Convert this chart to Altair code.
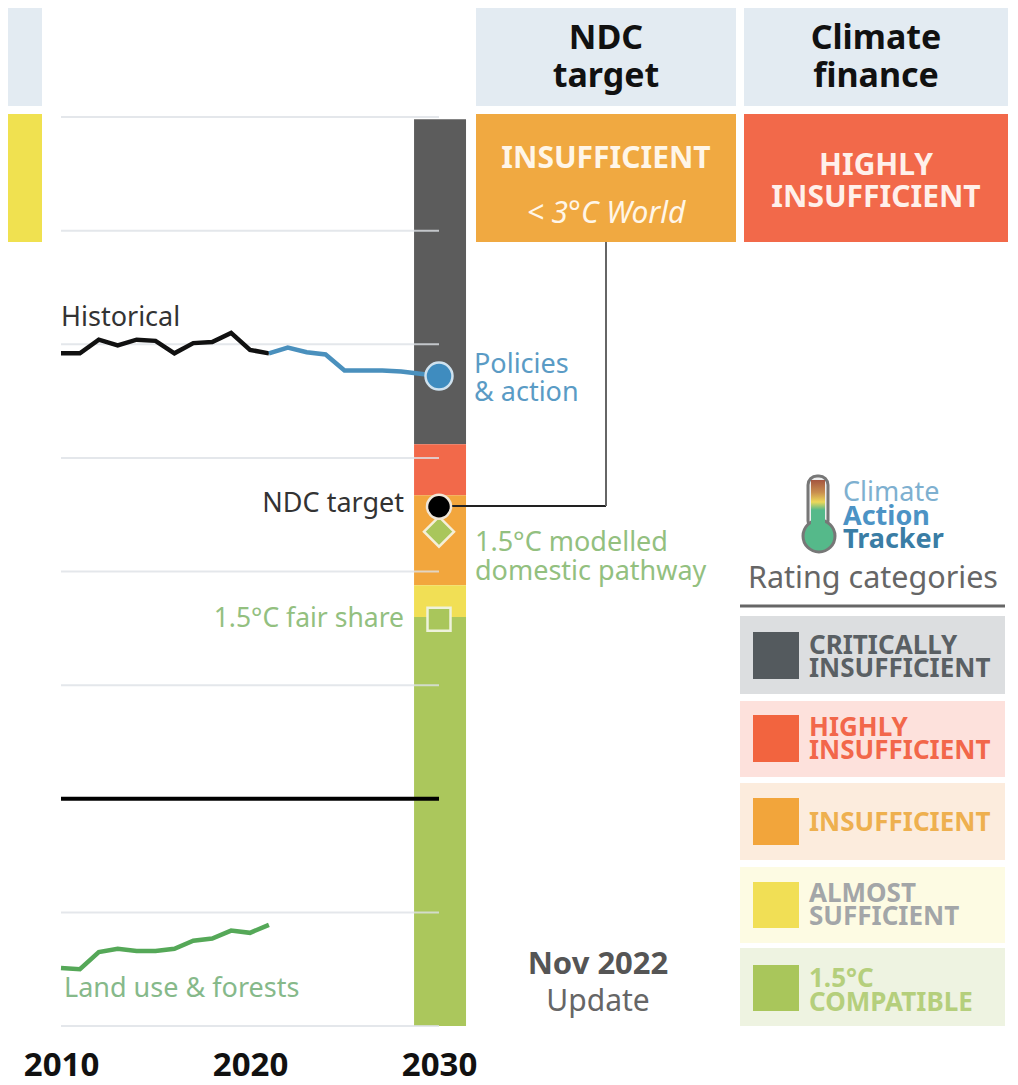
import altair as alt
import pandas as pd

FONT = "Noto Sans"

# ---- data ----
hist_years = list(range(2010, 2022))
hist_values = [392, 392, 404, 399, 404, 403, 392, 401, 402, 410, 395, 392]
policy_years = list(range(2021, 2031))
policy_values = [392, 397, 393, 391, 377, 377, 377, 376, 374, 372]
land_years = list(range(2010, 2022))
land_values = [-149, -150, -135, -132, -134, -134, -132, -125, -123, -116, -118, -111]
grid_values = [600, 500, 400, 300, 200, 100, -100, -200]
band_names = ["critical", "highly", "insufficient", "almost", "compatible"]
band_top = [598, 312, 267, 188, 160]
band_bottom = [312, 267, 188, 160, -200]
band_colors = ["#5c5c5c", "#f2694a", "#f2a63d", "#f1df55", "#abc75c"]
band_start = 2028.68
band_end = 2031.43
tick_years = [2010, 2020, 2030]
policy_point = 372
ndc_point = 257
modelled_point = 235
fair_point = 158

x_scale = alt.Scale(domain=[2010, 2030], range=[53, 431], nice=False, zero=False)
y_scale = alt.Scale(domain=[-200, 600], range=[1018, 109], nice=False, zero=False)
x_axis = alt.Axis(values=tick_years, format="d", title=None, grid=False, domain=False, ticks=False,
                  labelFont=FONT, labelFontSize=33, labelFontWeight="bold", labelColor="#111111",
                  labelPadding=11, labelFlush=False, labelOverlap=False)


def X(field="year"):
    return alt.X(f"{field}:Q", scale=x_scale, axis=x_axis)


def Y(field="value"):
    return alt.Y(f"{field}:Q", scale=y_scale, axis=None)


one = alt.Data(values=[{"a": 1}])


def box(x0, x1, y0, y1, color, **kw):
    return alt.Chart(one).mark_rect(color=color, **kw).encode(
        x=alt.value(x0 - 8), x2=alt.value(x1 - 8), y=alt.value(y0 - 8), y2=alt.value(y1 - 8))


def line_px(x0, x1, y0, y1, color, width):
    return alt.Chart(one).mark_rule(color=color, strokeWidth=width).encode(
        x=alt.value(x0 - 8), x2=alt.value(x1 - 8), y=alt.value(y0 - 8), y2=alt.value(y1 - 8))


def label(s, x, y, size, color, align="left", weight="normal", style="normal"):
    return alt.Chart(one).mark_text(font=FONT, fontSize=size, color=color, align=align,
                                    baseline="middle", fontWeight=weight, fontStyle=style).encode(
        x=alt.value(x - 8), y=alt.value(y - 7), text=alt.value(s))


def series(years, values, color):
    df = pd.DataFrame({"year": years, "value": values})
    return alt.Chart(df).mark_line(color=color, strokeWidth=4.5, strokeJoin="miter").encode(x=X(), y=Y())


def marker(value, shape, size, fill, stroke):
    df = pd.DataFrame({"year": [2030], "value": [value]})
    return alt.Chart(df).mark_point(shape=shape, size=size, filled=True, fill=fill, stroke=stroke,
                                    strokeWidth=2.5, opacity=1).encode(x=X(), y=Y())


bands = pd.DataFrame({"name": band_names, "top": band_top, "bottom": band_bottom,
                      "start": band_start, "end": band_end})
band_layer = alt.Chart(bands).mark_rect().encode(
    x=X("start"), x2="end:Q", y=Y("top"), y2="bottom:Q",
    color=alt.Color("name:N", scale=alt.Scale(domain=band_names, range=band_colors), legend=None))

grid = pd.DataFrame({"value": grid_values, "year": 2010, "end": 2030})
grid_layer = alt.Chart(grid).mark_rule(color="#dde1e6", strokeWidth=2, opacity=0.8).encode(
    x=X(), x2="end:Q", y=Y())

zero_df = pd.DataFrame({"value": [0], "year": [2010], "end": [2030]})
zero_layer = alt.Chart(zero_df).mark_rule(color="#000000", strokeWidth=4).encode(x=X(), x2="end:Q", y=Y())

HEAD = "#e3ebf2"
layers = [
    band_layer,
    grid_layer,
    zero_layer,
    series(hist_years, hist_values, "#111111"),
    series(policy_years, policy_values, "#4a90bd"),
    series(land_years, land_values, "#55a858"),
    line_px(439, 606, 506, 506, "#222222", 2),
    line_px(606, 606, 242, 506, "#666666", 2),
    marker(modelled_point, "diamond", 900, "#a9c65b", "#f5efd8"),
    marker(ndc_point, "circle", 576, "#000000", "#f0e6d8"),
    marker(policy_point, "circle", 729, "#3f8cbf", "#cfe2ef"),
    marker(fair_point, "square", 529, "#a9c65b", "#eef2dc"),
    # header panels
    box(0, 42, 0, 106, HEAD),
    box(0, 42, 114, 242, "#f0e150"),
    box(476, 736, 0, 106, HEAD),
    box(744, 1008, 0, 106, HEAD),
    box(476, 736, 114, 242, "#f0a941"),
    box(744, 1008, 114, 242, "#f2694a"),
    label("NDC", 606, 38, 34, "#111111", "center", "bold"),
    label("target", 606, 76, 34, "#111111", "center", "bold"),
    label("Climate", 876, 38, 34, "#111111", "center", "bold"),
    label("finance", 876, 76, 34, "#111111", "center", "bold"),
    label("INSUFFICIENT", 606, 158, 30, "#fff6e8", "center", "bold"),
    label("< 3°C World", 606, 213, 30, "#fff6e8", "center", "normal", "italic"),
    label("HIGHLY", 876, 165, 30, "#fff0ea", "center", "bold"),
    label("INSUFFICIENT", 876, 197, 30, "#fff0ea", "center", "bold"),
    # annotations
    label("Historical", 61, 317, 27, "#333333"),
    label("Policies", 474, 364, 27, "#5a9bc5"),
    label("& action", 474, 392, 27, "#5a9bc5"),
    label("NDC target", 404, 503, 27, "#333333", "right"),
    label("1.5°C modelled", 475, 542, 27, "#93c07f"),
    label("domestic pathway", 475, 571, 27, "#93c07f"),
    label("1.5°C fair share", 404, 618, 26.5, "#93c07f", "right"),
    label("Land use & forests", 64, 988, 27, "#86b98a"),
    label("Nov 2022", 598, 964, 31, "#555555", "center", "bold"),
    label("Update", 598, 1001, 30, "#666666", "center"),
    # logo
    box(808, 828, 476, 530, "#eeeeee", stroke="#777777", strokeWidth=3, cornerRadius=9),
    alt.Chart(pd.DataFrame({"year": [2030]})).mark_point(
        shape="circle", size=1024, filled=True, fill="#55b98a", stroke="#777777", strokeWidth=3, opacity=1
    ).encode(x=alt.value(811), y=alt.value(528)),
    box(811, 825, 480, 530, alt.Gradient(
        gradient="linear", x1=0, y1=0, x2=0, y2=1,
        stops=[alt.GradientStop(offset=0, color="#a4553f"),
               alt.GradientStop(offset=0.25, color="#c98f4f"),
               alt.GradientStop(offset=0.44, color="#ecd85a"),
               alt.GradientStop(offset=0.6, color="#55b98a"),
               alt.GradientStop(offset=1, color="#55b98a")])),
    label("Climate", 843, 492, 27, "#7eb0d0"),
    label("Action", 843, 516, 27, "#4c93c5", "left", "bold"),
    label("Tracker", 843, 539, 27, "#3a7da5", "left", "bold"),
    label("Rating categories", 873, 578, 30.5, "#666666", "center"),
    line_px(740, 1005, 606, 606, "#666666", 3),
    # rating legend
    box(740, 1005, 616, 694, "#dcdee0"),
    box(740, 1005, 701, 777, "#fde1dc"),
    box(740, 1005, 783, 860, "#fcecdd"),
    box(740, 1005, 867, 943, "#fdfbe3"),
    box(740, 1005, 948, 1026, "#eef3e1"),
    box(753, 799, 632, 679, "#545a5e"),
    box(753, 799, 715, 762, "#f2643f"),
    box(753, 799, 798, 845, "#f2a53b"),
    box(753, 799, 882, 928, "#f1df55"),
    box(753, 799, 965, 1011, "#a9c65b"),
    label("CRITICALLY", 809, 645, 26, "#5a6064", "left", "bold"),
    label("INSUFFICIENT", 809, 668, 26, "#5a6064", "left", "bold"),
    label("HIGHLY", 809, 727, 26, "#f2674a", "left", "bold"),
    label("INSUFFICIENT", 809, 750, 26, "#f2674a", "left", "bold"),
    label("INSUFFICIENT", 809, 822, 26, "#eeb04f", "left", "bold"),
    label("ALMOST", 809, 893, 26, "#a3a6a8", "left", "bold"),
    label("SUFFICIENT", 809, 916, 26, "#a3a6a8", "left", "bold"),
    label("1.5°C", 809, 978, 26, "#b5cf7c", "left", "bold"),
    label("COMPATIBLE", 809, 1002, 26, "#b5cf7c", "left", "bold"),
]

chart = alt.layer(*layers).resolve_scale(color="independent").properties(
    width=1002, height=1030,
    padding={"left": 0, "top": 0, "right": 0, "bottom": 47},
    autosize=alt.AutoSizeParams(type="none"),
    background="white",
).configure_view(stroke=None)

chart.save("out.html", embed_options={"renderer": "svg", "actions": False})
